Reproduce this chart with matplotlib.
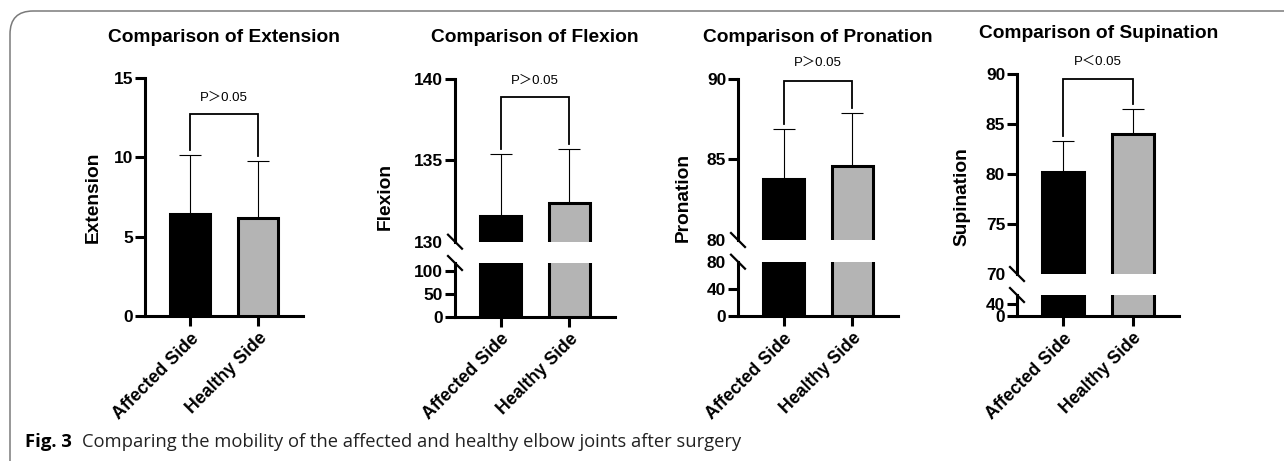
import matplotlib
matplotlib.use("Agg")
import matplotlib.pyplot as plt
from matplotlib.patches import FancyBboxPatch
from matplotlib.lines import Line2D

# ---------------- data ----------------
categories = ["Affected Side", "Healthy Side"]

ext_mean = [6.4, 6.2]
ext_sd = [3.75, 3.6]
flex_mean = [131.6, 132.4]
flex_sd = [3.8, 3.3]
pron_mean = [83.8, 84.6]
pron_sd = [3.1, 3.3]
sup_mean = [80.2, 84.0]
sup_sd = [3.1, 2.5]

titles = ["Comparison of Extension", "Comparison of Flexion",
          "Comparison of Pronation", "Comparison of Supination"]
ylabels = ["Extension", "Flexion", "Pronation", "Supination"]
p_labels = ["P\uff1e0.05", "P\uff1e0.05", "P\uff1e0.05", "P\uff1c0.05"]

ext_ticks = [0, 5, 10, 15]
flex_upper_ticks = [130, 135, 140]
flex_lower_ticks = [0, 50, 100]
pron_upper_ticks = [80, 85, 90]
pron_lower_ticks = [0, 40, 80]
sup_upper_ticks = [70, 75, 80, 85, 90]
sup_lower_ticks = [0, 40]

bracket_y = [12.75, 138.9, 89.9, 89.5]
ptext_y = [13.75, 139.9, 91.0, 91.2]
caption_bold = "Fig. 3"
caption_text = "Comparing the mobility of the affected and healthy elbow joints after surgery"

# ---------------- style ----------------
W, H = 1284, 461
fig = plt.figure(figsize=(W / 100, H / 100), dpi=100)
fig.patch.set_facecolor("white")

BAR_COLORS = ["#000000", "#b4b4b4"]
FONT = "Liberation Sans"
LW = 2.2
TICK_FS = 12.5


def rect(x0, x1, ytop, ybot):
    return [x0 / W, 1 - ybot / H, (x1 - x0) / W, (ybot - ytop) / H]


def style_axes(ax, ticks, ylim, xaxis=True):
    ax.set_xlim(-0.66, 1.66)
    ax.set_ylim(*ylim)
    ax.set_yticks(ticks)
    ax.set_yticklabels([str(t) for t in ticks], fontfamily=FONT,
                       fontweight="bold", fontsize=TICK_FS)
    ax.spines["top"].set_visible(False)
    ax.spines["right"].set_visible(False)
    ax.spines["left"].set_linewidth(LW)
    ax.spines["bottom"].set_linewidth(LW)
    ax.tick_params(axis="y", length=7, width=LW, pad=1.5)
    ax.patch.set_alpha(0)
    if xaxis:
        ax.set_xticks([0, 1])
        ax.set_xticklabels(categories, rotation=45, ha="right", va="top",
                           rotation_mode="anchor", fontfamily=FONT,
                           fontweight="bold", fontsize=12.8)
        ax.tick_params(axis="x", length=7, width=LW, pad=3)
    else:
        ax.spines["bottom"].set_visible(False)
        ax.set_xticks([])


def draw_bars(ax, mean):
    ax.bar([0, 1], mean, width=0.6, color=BAR_COLORS, edgecolor="black",
           linewidth=LW, zorder=3)


def draw_err(ax, mean, sd):
    ax.errorbar([0, 1], mean, yerr=[[0, 0], sd], fmt="none", ecolor="black",
                elinewidth=0.8, capsize=8, capthick=0.8, zorder=2)


def draw_bracket(ax, mean, sd, by, ty, label):
    # gap between bracket leg and error cap, ~5 px
    y0, y1 = ax.get_ylim()
    h = ax.get_position().height * H
    gap = 5 * (y1 - y0) / h
    legs = [mean[i] + sd[i] + gap for i in range(2)]
    ax.plot([0, 0, 1, 1], [legs[0], by, by, legs[1]], color="black",
            lw=1.3, clip_on=False, zorder=4, solid_joinstyle="miter")
    ax.text(0.5, ty, label, ha="center", va="center", fontsize=9.5,
            family=["Liberation Sans", "Noto Sans CJK SC"], clip_on=False)


def break_marks(x, y):
    # diagonal "\" centred on (x, y) in pixel coords (y from top)
    for yy in y:
        fig.add_artist(Line2D([(x - 7) / W, (x + 7) / W],
                              [1 - (yy - 7) / H, 1 - (yy + 7) / H],
                              color="black", lw=1.6, transform=fig.transFigure))


def hide_tick(ax, idx):
    t = ax.yaxis.get_major_ticks()[idx]
    t.tick1line.set_visible(False)


# ---------------- Extension (single axis) ----------------
ax = fig.add_axes(rect(145, 303, 78, 316))
style_axes(ax, ext_ticks, (0, 15))
draw_bars(ax, ext_mean)
draw_err(ax, ext_mean, ext_sd)
draw_bracket(ax, ext_mean, ext_sd, bracket_y[0], ptext_y[0], p_labels[0])

# ---------------- broken-axis panels ----------------
panels = [
    (455, 615, (79, 241.7), (263, 316.7), flex_mean, flex_sd,
     flex_upper_ticks, (130, 140), flex_lower_ticks, (0, 118), False),
    (738, 898, (79, 240), (261.7, 316), pron_mean, pron_sd,
     pron_upper_ticks, (80, 90), pron_lower_ticks, (0, 80), True),
    (1017, 1179, (74, 274), (295, 316), sup_mean, sup_sd,
     sup_upper_ticks, (70, 90), sup_lower_ticks, (0, 70), False),
]

for k, (x0, x1, up, lo, mean, sd, ut, ul, lt, ll, hide_low_top) in enumerate(panels, start=1):
    axu = fig.add_axes(rect(x0, x1, up[0], up[1]))
    style_axes(axu, ut, ul, xaxis=False)
    draw_bars(axu, mean)
    draw_err(axu, mean, sd)
    draw_bracket(axu, mean, sd, bracket_y[k], ptext_y[k], p_labels[k])
    hide_tick(axu, 0)

    axl = fig.add_axes(rect(x0, x1, lo[0], lo[1]))
    style_axes(axl, lt, ll, xaxis=True)
    draw_bars(axl, mean)
    if hide_low_top:
        hide_tick(axl, len(lt) - 1)

    break_marks(x0, [up[1], lo[0]])

# ---------------- titles & y-labels ----------------
title_x = [224, 535, 818, 1099]
title_y = [37, 37, 37, 34]
for t, x, y in zip(titles, title_x, title_y):
    fig.text(x / W, 1 - y / H, t, ha="center", va="center", fontfamily=FONT,
             fontweight="bold", fontsize=13.8)

ylabel_x = [93, 385, 683, 962]
for t, x in zip(ylabels, ylabel_x):
    fig.text(x / W, 1 - 197 / H, t, ha="center", va="center", rotation=90,
             fontfamily=FONT, fontweight="bold", fontsize=13.8)

# ---------------- caption & border ----------------
fig.text(25 / W, 1 - 447 / H, caption_bold, ha="left", va="baseline",
         fontfamily="Open Sans", fontweight="bold", fontsize=13.3)
fig.text(82 / W, 1 - 447 / H, caption_text, ha="left", va="baseline",
         fontfamily="Open Sans", fontsize=13.2, color="#222222")

border = FancyBboxPatch((10 / W, -0.05), 1.2, 1 - 11 / H + 0.05,
                        boxstyle="round,pad=0,rounding_size=0.018",
                        transform=fig.transFigure, facecolor="none",
                        edgecolor="#7a7a7a", lw=1.1, mutation_aspect=W / H)
fig.add_artist(border)

fig.savefig("out.png", dpi=100, facecolor="white")
